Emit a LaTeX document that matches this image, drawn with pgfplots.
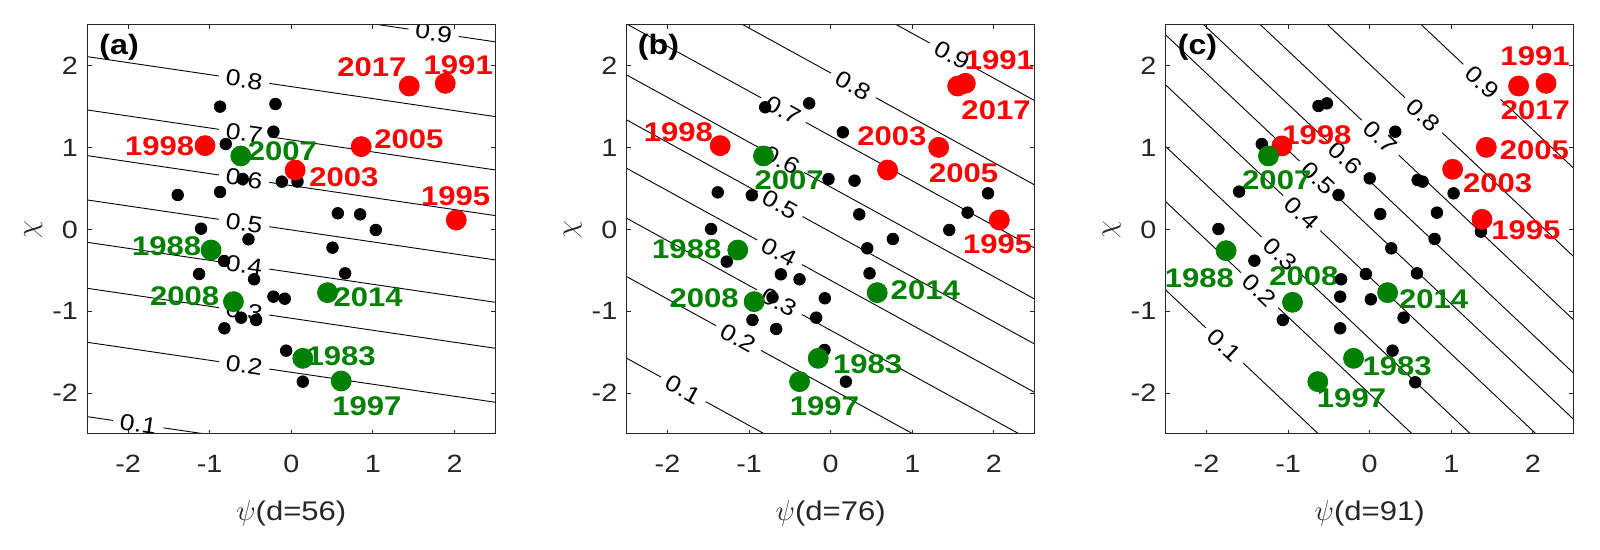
\documentclass[border=0pt]{standalone}
\usepackage{fontspec}
\setmainfont{Liberation Sans}[FakeStretch=1.15]
\usepackage{pgfplots}
\pgfplotsset{compat=1.18}

\definecolor{axgray}{HTML}{262626}
\definecolor{mred}{HTML}{FF0000}
\definecolor{mgreen}{HTML}{008000}

\newcommand\tickfont{\fontsize{12.5}{14}\selectfont}
\newcommand\yearfont{\bfseries\fontsize{13.5}{15}\selectfont}
\newcommand\clabfont{\fontsize{11.5}{13}\selectfont}
\newcommand\labfont{\fontsize{13.5}{15}\selectfont}

\pgfplotsset{
  panel/.style={
    scale only axis, width=204pt, height=204.5pt, anchor=south west,
    xmin=-2.5, xmax=2.5, ymin=-2.5, ymax=2.5,
    xtick={-2,-1,0,1,2}, ytick={-2,-1,0,1,2},
    tick align=inside, xtick pos=both, ytick pos=both,
    major tick length=2.2pt,
    axis line style={axgray, line width=0.5pt},
    every tick/.style={axgray, line width=0.5pt},
    ticklabel style={font=\tickfont, text=axgray},
    /pgf/number format/assume math mode=true,
    yticklabel style={xshift=-1.2pt},
    xticklabel style={yshift=-7pt},
    xlabel style={at={(axis description cs:0.5,-0.195)}, anchor=center,
                  font=\labfont, text=axgray},
    ylabel style={at={(axis description cs:-0.1324,0.5)}, anchor=center,
                  font=\labfont, text=axgray},
    axis on top, clip=true,
  },
  cline/.style={black, line width=0.45pt, no marks},
  bdot/.style={only marks, mark=*, mark size=2.9pt, color=black},
  rdot/.style={only marks, mark=*, mark size=5pt, color=mred},
  gdot/.style={only marks, mark=*, mark size=5pt, color=mgreen},
}
\tikzset{
  clab/.style={font=\clabfont, fill=white, inner xsep=3.5pt, inner ysep=0.5pt},
  yr/.style={font=\yearfont, inner sep=0pt, anchor=center},
  plab/.style={font=\bfseries\fontsize{14}{16}\selectfont, inner sep=0pt, anchor=center},
}

\begin{document}
\begin{tikzpicture}
\path[use as bounding box] (0,0) rectangle (800pt,275pt);

% ---------------- (a) d=56
\begin{axis}[panel, at={(43.65pt,58pt)}, xlabel={$\psi$(d=56)}, ylabel={$\chi$}]
  \addplot[cline] coordinates {(-2.5,3.027) (2.5,2.294)};
  \addplot[cline] coordinates {(-2.5,2.113) (2.5,1.380)};
  \addplot[cline] coordinates {(-2.5,1.461) (2.5,0.728)};
  \addplot[cline] coordinates {(-2.5,0.903) (2.5,0.170)};
  \addplot[cline] coordinates {(-2.5,0.361) (2.5,-0.372)};
  \addplot[cline] coordinates {(-2.5,-0.157) (2.5,-0.890)};
  \addplot[cline] coordinates {(-2.5,-0.719) (2.5,-1.452)};
  \addplot[cline] coordinates {(-2.5,-1.379) (2.5,-2.112)};
  \addplot[cline] coordinates {(-2.5,-2.288) (2.5,-3.021)};
  \node[clab, rotate=-8.4] at (axis cs:1.744,2.404) {0.9};
  \node[clab, rotate=-8.4] at (axis cs:-0.578,1.831) {0.8};
  \node[clab, rotate=-8.4] at (axis cs:-0.578,1.179) {0.7};
  \node[clab, rotate=-8.4] at (axis cs:-0.578,0.621) {0.6};
  \node[clab, rotate=-8.4] at (axis cs:-0.578,0.079) {0.5};
  \node[clab, rotate=-8.4] at (axis cs:-0.578,-0.439) {0.4};
  \node[clab, rotate=-8.4] at (axis cs:-0.578,-1.001) {0.3};
  \node[clab, rotate=-8.4] at (axis cs:-0.578,-1.661) {0.2};
  \node[clab, rotate=-8.4] at (axis cs:-1.875,-2.380) {0.1};
  \addplot[bdot] coordinates {
    (-0.873,1.502) (-0.194,1.534) (-0.219,1.196) (-0.803,1.045) (-0.595,0.617)
    (-0.116,0.585) (0.076,0.585) (-1.392,0.422) (-0.873,0.458) (0.570,0.198)
    (0.844,0.185) (1.036,-0.006) (-1.106,0.010) (-0.525,-0.120) (0.505,-0.222)
    (-0.824,-0.385) (-1.130,-0.544) (-0.456,-0.609) (0.660,-0.536) (-0.219,-0.821)
    (-0.080,-0.846) (-0.615,-1.078) (-0.431,-1.106) (-0.820,-1.208) (-0.063,-1.481)
    (0.141,-1.860)};
  \addplot[rdot] coordinates {(1.445,1.754) (1.887,1.787) (-1.057,1.025)
    (0.857,1.013) (0.047,0.727) (2.022,0.116)};
  \addplot[gdot] coordinates {(-0.619,0.899) (-0.983,-0.251) (-0.709,-0.882)
    (0.444,-0.772) (0.141,-1.575) (0.611,-1.852)};
  \node[yr, text=mred] at (axis cs:0.987,1.978) {2017};
  \node[yr, text=mred] at (axis cs:2.046,2.011) {1991};
  \node[yr, text=mred] at (axis cs:-1.613,1.013) {1998};
  \node[yr, text=mred] at (axis cs:1.441,1.102) {2005};
  \node[yr, text=mred] at (axis cs:0.644,0.638) {2003};
  \node[yr, text=mred] at (axis cs:2.013,0.401) {1995};
  \node[yr, text=mgreen] at (axis cs:-0.108,0.951) {2007};
  \node[yr, text=mgreen] at (axis cs:-1.527,-0.210) {1988};
  \node[yr, text=mgreen] at (axis cs:-1.306,-0.813) {2008};
  \node[yr, text=mgreen] at (axis cs:0.942,-0.829) {2014};
  \node[yr, text=mgreen] at (axis cs:0.611,-1.546) {1983};
  \node[yr, text=mgreen] at (axis cs:0.926,-2.158) {1997};
  \node[plab] at (axis cs:-2.11,2.23) {(a)};
\end{axis}

% ---------------- (b) d=76
\begin{axis}[panel, at={(313.35pt,58pt)}, xlabel={$\psi$(d=76)}, ylabel={$\chi$}]
  \addplot[cline] coordinates {(-2.5,4.315) (2.5,1.575)};
  \addplot[cline] coordinates {(-2.5,3.284) (2.5,0.544)};
  \addplot[cline] coordinates {(-2.5,2.512) (2.5,-0.228)};
  \addplot[cline] coordinates {(-2.5,1.889) (2.5,-0.851)};
  \addplot[cline] coordinates {(-2.5,1.339) (2.5,-1.401)};
  \addplot[cline] coordinates {(-2.5,0.748) (2.5,-1.992)};
  \addplot[cline] coordinates {(-2.5,0.137) (2.5,-2.603)};
  \addplot[cline] coordinates {(-2.5,-0.576) (2.5,-3.316)};
  \addplot[cline] coordinates {(-2.5,-1.574) (2.5,-4.314)};
  \node[clab, rotate=-28.8] at (axis cs:1.487,2.130) {0.9};
  \node[clab, rotate=-28.8] at (axis cs:0.280,1.761) {0.8};
  \node[clab, rotate=-28.8] at (axis cs:-0.578,1.459) {0.7};
  \node[clab, rotate=-28.8] at (axis cs:-0.599,0.847) {0.6};
  \node[clab, rotate=-28.8] at (axis cs:-0.619,0.308) {0.5};
  \node[clab, rotate=-28.8] at (axis cs:-0.628,-0.278) {0.4};
  \node[clab, rotate=-28.8] at (axis cs:-0.628,-0.889) {0.3};
  \node[clab, rotate=-28.8] at (axis cs:-1.130,-1.327) {0.2};
  \node[clab, rotate=-28.8] at (axis cs:-1.805,-1.955) {0.1};
  \addplot[bdot] coordinates {
    (-0.803,1.494) (-0.264,1.542) (0.149,1.188) (-1.384,0.454) (-0.967,0.418)
    (-0.027,0.617) (0.292,0.597) (1.928,0.442) (0.350,0.185) (1.678,0.206)
    (-1.466,0.006) (1.453,-0.006) (0.762,-0.116) (0.448,-0.230) (-1.274,-0.393)
    (-0.611,-0.548) (-0.382,-0.609) (0.476,-0.536) (-0.713,-0.829) (-0.072,-0.841)
    (-0.959,-1.106) (-0.178,-1.078) (-0.668,-1.216) (-0.076,-1.473) (0.186,-1.860)};
  \addplot[rdot] coordinates {(1.556,1.754) (1.650,1.787) (-1.355,1.025)
    (0.697,0.727) (1.323,1.004) (2.067,0.116)};
  \addplot[gdot] coordinates {(-0.824,0.899) (-1.139,-0.251) (-0.938,-0.882)
    (0.570,-0.772) (-0.153,-1.575) (-0.382,-1.860)};
  \node[yr, text=mred] at (axis cs:2.067,2.064) {1991};
  \node[yr, text=mred] at (axis cs:2.026,1.453) {2017};
  \node[yr, text=mred] at (axis cs:-1.866,1.184) {1998};
  \node[yr, text=mred] at (axis cs:0.750,1.135) {2003};
  \node[yr, text=mred] at (axis cs:1.629,0.687) {2005};
  \node[yr, text=mred] at (axis cs:2.046,-0.181) {1995};
  \node[yr, text=mgreen] at (axis cs:-0.509,0.605) {2007};
  \node[yr, text=mgreen] at (axis cs:-1.764,-0.242) {1988};
  \node[yr, text=mgreen] at (axis cs:-1.552,-0.841) {2008};
  \node[yr, text=mgreen] at (axis cs:1.159,-0.748) {2014};
  \node[yr, text=mgreen] at (axis cs:0.452,-1.644) {1983};
  \node[yr, text=mgreen] at (axis cs:-0.076,-2.166) {1997};
  \node[plab] at (axis cs:-2.11,2.23) {(b)};
\end{axis}

% ---------------- (c) d=91
\begin{axis}[panel, at={(582.85pt,58pt)}, xlabel={$\psi$(d=91)}, ylabel={$\chi$}]
  \addplot[cline] coordinates {(-2.5,5.448) (2.5,0.748)};
  \addplot[cline] coordinates {(-2.5,4.368) (2.5,-0.332)};
  \addplot[cline] coordinates {(-2.5,3.594) (2.5,-1.106)};
  \addplot[cline] coordinates {(-2.5,2.942) (2.5,-1.758)};
  \addplot[cline] coordinates {(-2.5,2.378) (2.5,-2.322)};
  \addplot[cline] coordinates {(-2.5,1.767) (2.5,-2.933)};
  \addplot[cline] coordinates {(-2.5,1.013) (2.5,-3.687)};
  \addplot[cline] coordinates {(-2.5,0.340) (2.5,-4.360)};
  \addplot[cline] coordinates {(-2.5,-0.740) (2.5,-5.440)};
  \node[clab, rotate=-43.2] at (axis cs:1.376,1.805) {0.9};
  \node[clab, rotate=-43.2] at (axis cs:0.660,1.398) {0.8};
  \node[clab, rotate=-43.2] at (axis cs:0.129,1.123) {0.7};
  \node[clab, rotate=-43.2] at (axis cs:-0.300,0.874) {0.6};
  \node[clab, rotate=-43.2] at (axis cs:-0.632,0.622) {0.5};
  \node[clab, rotate=-43.2] at (axis cs:-0.833,0.200) {0.4};
  \node[clab, rotate=-43.2] at (axis cs:-1.098,-0.305) {0.3};
  \node[clab, rotate=-43.2] at (axis cs:-1.349,-0.742) {0.2};
  \node[clab, rotate=-43.2] at (axis cs:-1.780,-1.417) {0.1};
  \addplot[bdot] coordinates {
    (-0.628,1.510) (-0.525,1.542) (0.313,1.196) (-1.323,1.045) (-1.601,0.463)
    (-0.382,0.422) (0.000,0.625) (0.587,0.605) (0.648,0.585) (0.129,0.189)
    (0.824,0.206) (1.028,0.442) (-1.854,0.006) (0.795,-0.116) (0.264,-0.230)
    (-1.413,-0.381) (-0.047,-0.544) (-0.350,-0.609) (0.579,-0.536) (-0.362,-0.821)
    (0.014,-0.854) (-1.065,-1.106) (0.415,-1.078) (-0.362,-1.208) (0.280,-1.481)
    (0.558,-1.868) (1.363,-0.026)};
  \addplot[rdot] coordinates {(1.825,1.754) (2.161,1.787) (-1.077,1.021)
    (1.429,1.004) (1.016,0.736) (1.376,0.124)};
  \addplot[gdot] coordinates {(-1.241,0.899) (-1.760,-0.259) (-0.946,-0.890)
    (0.219,-0.772) (-0.198,-1.575) (-0.636,-1.860)};
  \node[yr, text=mred] at (axis cs:2.026,2.113) {1991};
  \node[yr, text=mred] at (axis cs:2.030,1.453) {2017};
  \node[yr, text=mred] at (axis cs:-0.648,1.155) {1998};
  \node[yr, text=mred] at (axis cs:2.018,0.964) {2005};
  \node[yr, text=mred] at (axis cs:1.568,0.564) {2003};
  \node[yr, text=mred] at (axis cs:1.915,-0.014) {1995};
  \node[yr, text=mgreen] at (axis cs:-1.139,0.597) {2007};
  \node[yr, text=mgreen] at (axis cs:-2.087,-0.597) {1988};
  \node[yr, text=mgreen] at (axis cs:-0.807,-0.577) {2008};
  \node[yr, text=mgreen] at (axis cs:0.783,-0.854) {2014};
  \node[yr, text=mgreen] at (axis cs:0.337,-1.677) {1983};
  \node[yr, text=mgreen] at (axis cs:-0.223,-2.064) {1997};
  \node[plab] at (axis cs:-2.11,2.23) {(c)};
\end{axis}
\end{tikzpicture}
\end{document}
